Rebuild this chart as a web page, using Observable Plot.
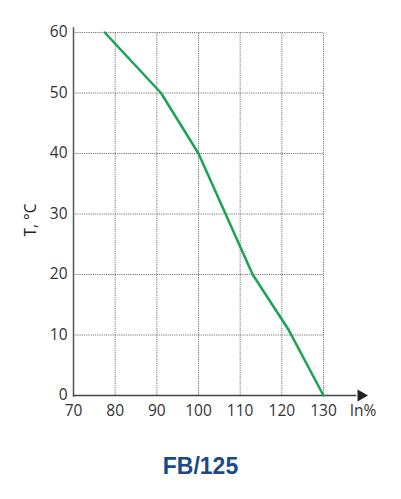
<!DOCTYPE html>
<html><head><meta charset="utf-8">
<script src="https://cdn.jsdelivr.net/npm/d3@7"></script>
<script src="https://cdn.jsdelivr.net/npm/@observablehq/plot@0.6"></script>
<style>
body{margin:0;background:#fff;}
#title{font-family:"Liberation Sans",Arial,sans-serif;font-weight:bold;font-size:23px;color:#1c4a87;text-align:center;width:401px;margin-top:13px;}
</style></head>
<body>
<div id="chart"></div>
<div id="title">FB/125</div>
<script>
const currentPct = [77.5, 91, 100, 113, 121.5, 130];
const temperature = [60, 50, 40, 20, 11, 0];
const xTicks = [70, 80, 90, 100, 110, 120, 130];
const yTicks = [0, 10, 20, 30, 40, 50, 60];
const xLabel = "In%";
const yLabel = "T, °C";
const chartTitle = "FB/125";

const data = currentPct.map((x, i) => ({x, y: temperature[i]}));
const font = "'Open Sans', sans-serif";
const gridColor = "#777";

const plot = Plot.plot({
  width: 401,
  height: 440,
  marginLeft: 73,
  marginRight: 78,
  marginTop: 32,
  marginBottom: 45,
  style: {fontFamily: font, fontSize: "15px", color: "#333", overflow: "visible"},
  x: {domain: [70, 130], axis: null},
  y: {domain: [0, 60], axis: null},
  marks: [
    Plot.ruleX(xTicks.slice(1), {y1: 0, y2: 60, stroke: gridColor, strokeDasharray: "1.2,1", strokeWidth: 1}),
    Plot.ruleY(yTicks.slice(1), {x1: 70, x2: 130, stroke: gridColor, strokeDasharray: "1.2,1", strokeWidth: 1}),
    Plot.ruleX([70], {y1: -0.3, y2: 60.8, stroke: "#555", strokeWidth: 1.5}),
    Plot.ruleY([0], {x1: 70, x2: 138, stroke: "#444", strokeWidth: 1.5}),
    Plot.dot([{x: 139}], {x: "x", y: 0, symbol: "triangle", rotate: 90, r: 4.5, fill: "#222", stroke: null}),
    Plot.line(data, {x: "x", y: "y", stroke: "#1aa552", strokeWidth: 2.5}),
    Plot.text(yTicks, {x: 70, y: d => d, text: d => String(d), textAnchor: "end", dx: -6, fontSize: 15.5, fill: "#333"}),
    Plot.text(xTicks, {x: d => d, y: 0, text: d => String(d), dy: 16, fontSize: 15.5, fill: "#333"}),
    Plot.text([xLabel], {x: 139.5, y: 0, text: d => d, dy: 16, fontSize: 15.5, fill: "#333"}),
    Plot.text([yLabel], {x: 70, y: 29, text: d => d, rotate: -90, dx: -42, fontSize: 15.5, fill: "#222"})
  ]
});
document.getElementById("chart").appendChild(plot);
</script>
</body></html>
